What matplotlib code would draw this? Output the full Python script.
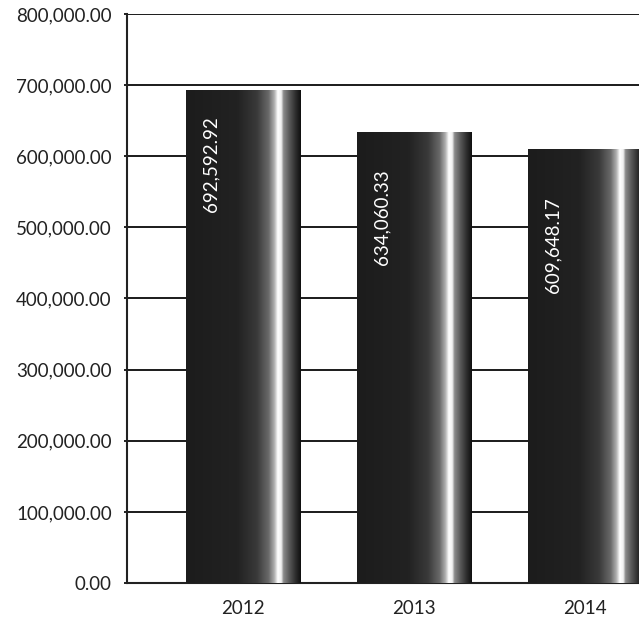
import numpy as np
import matplotlib.pyplot as plt
from matplotlib.colors import LinearSegmentedColormap
from matplotlib.ticker import FuncFormatter

years = ["2012", "2013", "2014"]
values = [692592.92, 634060.33, 609648.17]
value_labels = ["692,592.92", "634,060.33", "609,648.17"]

plt.rcParams['font.family'] = ['Lato', 'DejaVu Sans']

fig = plt.figure(figsize=(6.39, 6.18), dpi=100)
ax = fig.add_axes([127 / 639, 1 - 583 / 618, 1 - 127 / 639, (583 - 14) / 618])

# dark bar with a bright vertical highlight near the right side
stops = [(0.0, "#1c1c1c"), (0.45, "#222222"), (0.62, "#3a3a3a"), (0.72, "#6a6a6a"),
         (0.77, "#b0b0b0"), (0.80, "#ffffff"), (0.83, "#f0f0f0"), (0.85, "#8a8a8a"),
         (0.90, "#5a5a5a"), (0.96, "#2a2a2a"), (1.0, "#101010")]
cmap = LinearSegmentedColormap.from_list("shine", stops)
grad = np.linspace(0, 1, 256).reshape(1, -1)

width = 0.667
x = np.arange(len(years))
bars = ax.bar(x, values, width=width, color="#1e1e1e", zorder=2)
for b in bars:
    im = ax.imshow(grad, cmap=cmap, aspect="auto", zorder=3,
                   extent=[b.get_x(), b.get_x() + b.get_width(), 0, b.get_height()])
    im.set_clip_path(b)

# labels sit a little lower on each following bar in the original
gaps = [26, 37, 48]
for xi, v, lab, g in zip(x, values, value_labels, gaps):
    ax.annotate(lab, (xi - 0.19, v), xytext=(0, -g * 0.72), textcoords="offset points",
                rotation=90, va="top", ha="center", color="white", fontsize=13.5, zorder=4)

ax.set_xlim(-0.678, 2.316)
ax.set_ylim(0, 800000)
ax.set_yticks(np.arange(0, 800001, 100000))
ax.yaxis.set_major_formatter(FuncFormatter(lambda v, p: f"{v:,.2f}"))
ax.set_xticks(x)
ax.set_xticklabels(years)
ax.grid(axis="y", color="#1a1a1a", linewidth=1.4, zorder=0)
ax.set_axisbelow(True)
ax.tick_params(axis="y", length=2, width=1.4, pad=9, labelsize=13.5, colors="#222222")
ax.tick_params(axis="x", length=0, pad=12, labelsize=13.5, colors="#222222")
for s in ["top", "right"]:
    ax.spines[s].set_visible(False)
for s in ["left", "bottom"]:
    ax.spines[s].set_linewidth(1.5)
    ax.spines[s].set_color("#222222")

fig.savefig("out.png", dpi=100)
